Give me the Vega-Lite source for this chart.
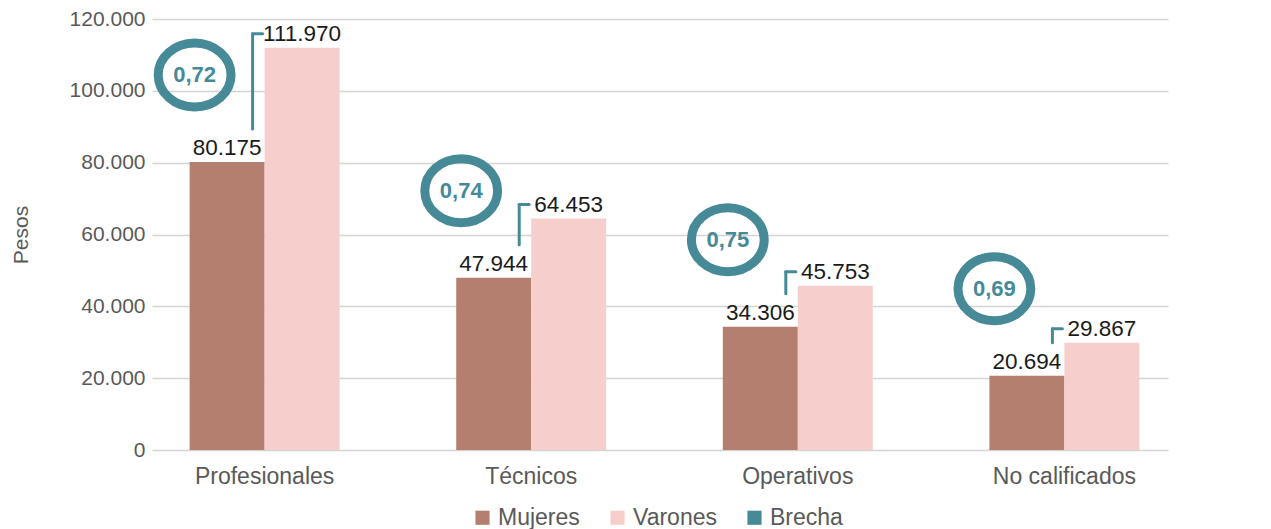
{
  "$schema": "https://vega.github.io/schema/vega-lite/v6.json",
  "width": 1016,
  "height": 431,
  "autosize": {"type": "none"},
  "padding": {"left": 152, "top": 19, "right": 103, "bottom": 79},
  "background": "white",
  "config": {
    "locale": {"number": {"decimal": ",", "thousands": ".", "grouping": [3], "currency": ["$", ""]}},
    "font": "Liberation Sans",
    "view": {"stroke": null},
    "axisY": {"titleFontSize": 21, "titleFontWeight": "normal", "titleColor": "#595959", "titlePadding": 38, "domain": false, "ticks": false, "labelFontSize": 21, "labelColor": "#595959", "labelPadding": 7, "gridColor": "#d4d4d4", "gridWidth": 1.5, "labelOverlap": false}
  },
  "data": {
    "values": [
      {"categoria": "Profesionales", "Mujeres": 80175, "Varones": 111970, "brecha": 0.72},
      {"categoria": "Técnicos", "Mujeres": 47944, "Varones": 64453, "brecha": 0.74},
      {"categoria": "Operativos", "Mujeres": 34306, "Varones": 45753, "brecha": 0.75},
      {"categoria": "No calificados", "Mujeres": 20694, "Varones": 29867, "brecha": 0.69}
    ]
  },
  "encoding": {
    "x": {
      "field": "categoria",
      "type": "nominal",
      "sort": null,
      "scale": {"paddingInner": 0.4374, "paddingOuter": 0.1242, "align": 0.568},
      "axis": {"title": null, "domain": false, "ticks": false, "labelAngle": 0, "labelFontSize": 23, "labelColor": "#595959", "labelPadding": 15}
    }
  },
  "layer": [
    {
      "transform": [{"fold": ["Mujeres", "Varones"], "as": ["genero", "valor"]}],
      "encoding": {
        "xOffset": {"field": "genero", "type": "nominal", "scale": {"domain": ["Mujeres", "Varones"], "paddingInner": 0, "paddingOuter": 0}},
        "y": {
          "field": "valor",
          "type": "quantitative",
          "scale": {"domain": [0, 120000]},
          "axis": {"title": "Pesos", "values": [0, 20000, 40000, 60000, 80000, 100000, 120000], "format": ",.0f"}
        }
      },
      "layer": [
        {
          "mark": {"type": "bar"},
          "encoding": {
            "color": {
              "field": "genero",
              "type": "nominal",
              "scale": {"domain": ["Mujeres", "Varones", "Brecha"], "range": ["#b57f6f", "#f6cfcd", "#468a98"]},
              "legend": {"title": null, "orient": "none", "direction": "horizontal", "legendX": 319, "legendY": 487, "symbolType": "square", "symbolSize": 200, "symbolOpacity": 1, "labelFontSize": 23, "labelColor": "#595959", "columnPadding": 26, "symbolStrokeWidth": 0}
            }
          }
        },
        {
          "mark": {"type": "text", "baseline": "alphabetic", "dy": -7, "fontSize": 22.5, "color": "#1a1a1a"},
          "encoding": {"text": {"field": "valor", "type": "quantitative", "format": ",.0f"}}
        }
      ]
    },
    {
      "mark": {"type": "rule", "stroke": "#468a98", "strokeWidth": 3, "xOffset": -12, "yOffset": -33, "y2Offset": -14, "strokeCap": "round"},
      "encoding": {
        "y": {"field": "Mujeres", "type": "quantitative", "axis": {"title": "Pesos", "values": [0, 20000, 40000, 60000, 80000, 100000, 120000], "format": ",.0f"}},
        "y2": {"field": "Varones"}
      }
    },
    {
      "mark": {"type": "rule", "stroke": "#468a98", "strokeWidth": 3, "xOffset": -12, "x2Offset": -2, "yOffset": -14, "strokeCap": "round"},
      "encoding": {
        "y": {"field": "Varones", "type": "quantitative", "axis": {"title": "Pesos", "values": [0, 20000, 40000, 60000, 80000, 100000, 120000], "format": ",.0f"}},
        "x2": {"field": "categoria"}
      }
    },
    {
      "mark": {"type": "point", "shape": "M -1 0 A 1 0.88 0 1 1 1 0 A 1 0.88 0 1 1 -1 0 Z", "filled": false, "size": 5300, "stroke": "#468a98", "strokeWidth": 9, "opacity": 1, "xOffset": -70, "yOffset": -87},
      "encoding": {"y": {"field": "Mujeres", "type": "quantitative", "axis": {"title": "Pesos", "values": [0, 20000, 40000, 60000, 80000, 100000, 120000], "format": ",.0f"}}}
    },
    {
      "mark": {"type": "text", "fontSize": 22, "fontWeight": "bold", "color": "#468a98", "xOffset": -70, "yOffset": -87, "baseline": "middle"},
      "encoding": {
        "y": {"field": "Mujeres", "type": "quantitative", "axis": {"title": "Pesos", "values": [0, 20000, 40000, 60000, 80000, 100000, 120000], "format": ",.0f"}},
        "text": {"field": "brecha", "type": "quantitative", "format": ".2f"}
      }
    }
  ]
}
